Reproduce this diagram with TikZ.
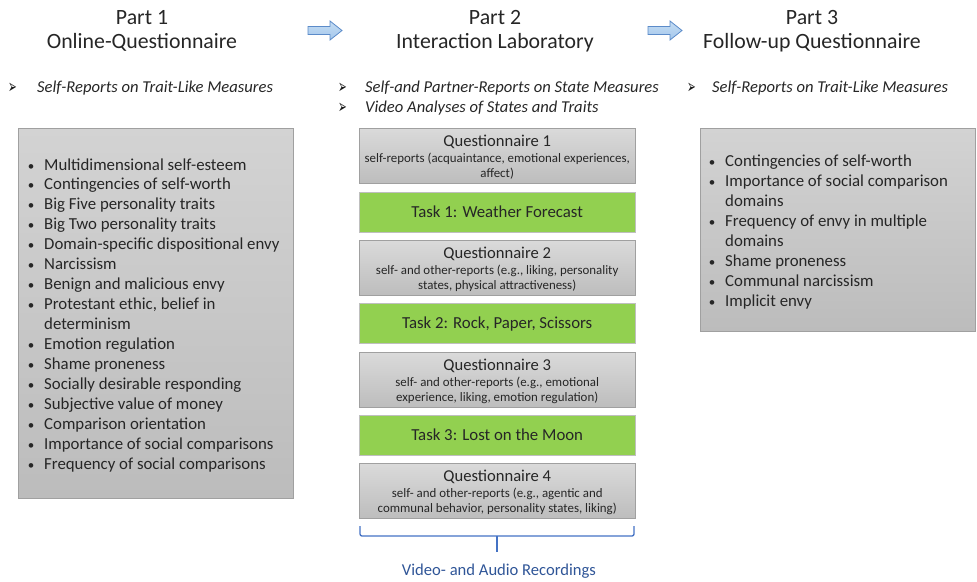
\documentclass[tikz,border=0pt]{standalone}
\usepackage{fontspec}
\setmainfont{Carlito}
\newfontfamily\djvfont{DejaVu Sans}
\definecolor{arrfill}{HTML}{A4C8EC}
\definecolor{arrfilltop}{HTML}{C5DCF3}
\definecolor{arrline}{HTML}{5B8BC9}
\definecolor{taskgreen}{HTML}{92D050}
\definecolor{bracecol}{HTML}{4472C4}
\definecolor{vidcol}{HTML}{2F5597}
\definecolor{boxline}{HTML}{A0A0A0}
\definecolor{graytop}{HTML}{DADADA}
\definecolor{graybot}{HTML}{BDBDBD}
\definecolor{bigtop}{HTML}{D3D3D3}
\definecolor{bigbot}{HTML}{BCBCBC}
\begin{document}
\begin{tikzpicture}[x=1pt,y=-1pt,
  hdr/.style={anchor=base, inner sep=0, font=\fontsize{21.8}{26}\selectfont, text=black!85},
  subhd/.style={anchor=base west, inner sep=0, font=\fontsize{16.6}{19}\selectfont\itshape, text=black!85},
  arrbul/.style={anchor=base west, inner sep=0, font=\djvfont\fontsize{13}{15}\selectfont, text=black!90},
  bigbox/.style={draw=boxline, top color=bigtop, bottom color=bigbot, inner sep=0},
  qbox/.style={draw=boxline, top color=graytop, bottom color=graybot, minimum width=276pt, minimum height=55pt, inner sep=0, anchor=north west},
  taskbox/.style={draw=black!25, fill=taskgreen, minimum width=276pt, minimum height=40pt, inner sep=0, anchor=north west},
  qtitle/.style={anchor=base, inner sep=0, font=\fontsize{16.6}{19}\selectfont, text=black!85},
  qsub/.style={anchor=base, inner sep=0, font=\fontsize{12.9}{15}\selectfont, text=black!85},
  tasktxt/.style={anchor=base, inner sep=0, font=\fontsize{16.8}{19}\selectfont, text=black!85},
  litem/.style={anchor=base west, inner sep=0, font=\fontsize{16.8}{20}\selectfont, text=black!85},
  lbul/.style={anchor=base, inner sep=0, font=\fontsize{13}{20}\selectfont, text=black!85},
  blockarr/.style={draw=arrline, line width=0.8pt, top color=arrfilltop, bottom color=arrfill},
]
\useasboundingbox (0,0) rectangle (977,581);

% headers
\node[hdr] (p1a) at (142,24) {Part 1};
\node[hdr] (p1b) at (142,48) {Online-Questionnaire};
\node[hdr] (p2a) at (495,24) {Part 2};
\node[hdr] (p2b) at (495,48) {Interaction Laboratory};
\node[hdr] (p3a) at (812,24) {Part 3};
\node[hdr] (p3b) at (812,48) {Follow-up Questionnaire};

% block arrows
\draw[blockarr] (308,26.5) -- (330,26.5) -- (330,21) -- (342,30.5) -- (330,40) -- (330,34.5) -- (308,34.5) -- cycle;
\draw[blockarr] (648,26.5) -- (670,26.5) -- (670,21) -- (682,30.5) -- (670,40) -- (670,34.5) -- (648,34.5) -- cycle;

% sub headings
\node[arrbul] (a1) at (8,93) {\scalebox{0.8}[1.5]{➢}};
\node[subhd] (s1) at (37,92) {Self-Reports on Trait-Like Measures};
\node[arrbul] (a2) at (338,93) {\scalebox{0.8}[1.5]{➢}};
\node[subhd] (s2) at (365,92) {Self-and Partner-Reports on State Measures};
\node[arrbul] (a3) at (338,113) {\scalebox{0.8}[1.5]{➢}};
\node[subhd] (s3) at (365,112) {Video Analyses of States and Traits};
\node[arrbul] (a4) at (687,93) {\scalebox{0.8}[1.5]{➢}};
\node[subhd] (s4) at (712,92) {Self-Reports on Trait-Like Measures};

% left box
\path[bigbox] (18,128) rectangle (293,498);
\foreach \t [count=\i from 0] in {Multidimensional self-esteem, Contingencies of self-worth, Big Five personality traits, Big Two personality traits, Domain-specific dispositional envy, Narcissism, Benign and malicious envy, {Protestant ethic, belief in}, determinism, Emotion regulation, Shame proneness, Socially desirable responding, Subjective value of money, Comparison orientation, Importance of social comparisons, Frequency of social comparisons}{
  \node[litem] (l\i) at (44,170+19.95*\i) {\t};
}
\foreach \i in {0,1,2,3,4,5,6,7,9,10,11,12,13,14,15}{
  \node[lbul] (lb\i) at (31,170+19.95*\i) {•};
}

% right box
\path[bigbox] (700,128) rectangle (975,331);
\foreach \t [count=\i from 0] in {Contingencies of self-worth, Importance of social comparison, domains, Frequency of envy in multiple, domains, Shame proneness, Communal narcissism, Implicit envy}{
  \node[litem] (r\i) at (725,166+20*\i) {\t};
}
\foreach \i in {0,1,3,5,6,7}{
  \node[lbul] (rb\i) at (712,166+20*\i) {•};
}

% middle column
\node[qbox] (q1) at (359,128) {};
\node[qtitle] at ([yshift=-18pt]q1.north) {Questionnaire 1};
\node[qsub] at ([yshift=-34.5pt]q1.north) {self-reports (acquaintance, emotional experiences,};
\node[qsub] at ([yshift=-49.5pt]q1.north) {affect)};

\node[taskbox] (t1) at (359,192) {};
\node[tasktxt] at ([yshift=-5.5pt]t1.center) {Task 1: Weather Forecast};

\node[qbox] (q2) at (359,240) {};
\node[qtitle] at ([yshift=-18pt]q2.north) {Questionnaire 2};
\node[qsub] at ([yshift=-34.5pt]q2.north) {self- and other-reports (e.g., liking, personality};
\node[qsub] at ([yshift=-49.5pt]q2.north) {states, physical attractiveness)};

\node[taskbox] (t2) at (359,303) {};
\node[tasktxt] at ([yshift=-5.5pt]t2.center) {Task 2: Rock, Paper, Scissors};

\node[qbox] (q3) at (359,352) {};
\node[qtitle] at ([yshift=-18pt]q3.north) {Questionnaire 3};
\node[qsub] at ([yshift=-34.5pt]q3.north) {self- and other-reports (e.g., emotional};
\node[qsub] at ([yshift=-49.5pt]q3.north) {experience, liking, emotion regulation)};

\node[taskbox] (t3) at (359,415) {};
\node[tasktxt] at ([yshift=-5.5pt]t3.center) {Task 3: Lost on the Moon};

\node[qbox] (q4) at (359,463) {};
\node[qtitle] at ([yshift=-18pt]q4.north) {Questionnaire 4};
\node[qsub] at ([yshift=-34.5pt]q4.north) {self- and other-reports (e.g., agentic and};
\node[qsub] at ([yshift=-49.5pt]q4.north) {communal behavior, personality states, liking)};

% brace
\coordinate (bl) at (360,526);
\coordinate (br) at (634,526);
\coordinate (bm) at (497,552);
\draw[bracecol, line width=1.3pt, rounded corners=2pt] (bl) -- (360,536) -- (634,536) -- (br);
\draw[bracecol, line width=1.3pt] (497,536) -- (bm);
\node[anchor=base, inner sep=0, font=\fontsize{16.6}{19}\selectfont, text=vidcol] (vid) at (499,575) {Video- and Audio Recordings};
\end{tikzpicture}
\end{document}
